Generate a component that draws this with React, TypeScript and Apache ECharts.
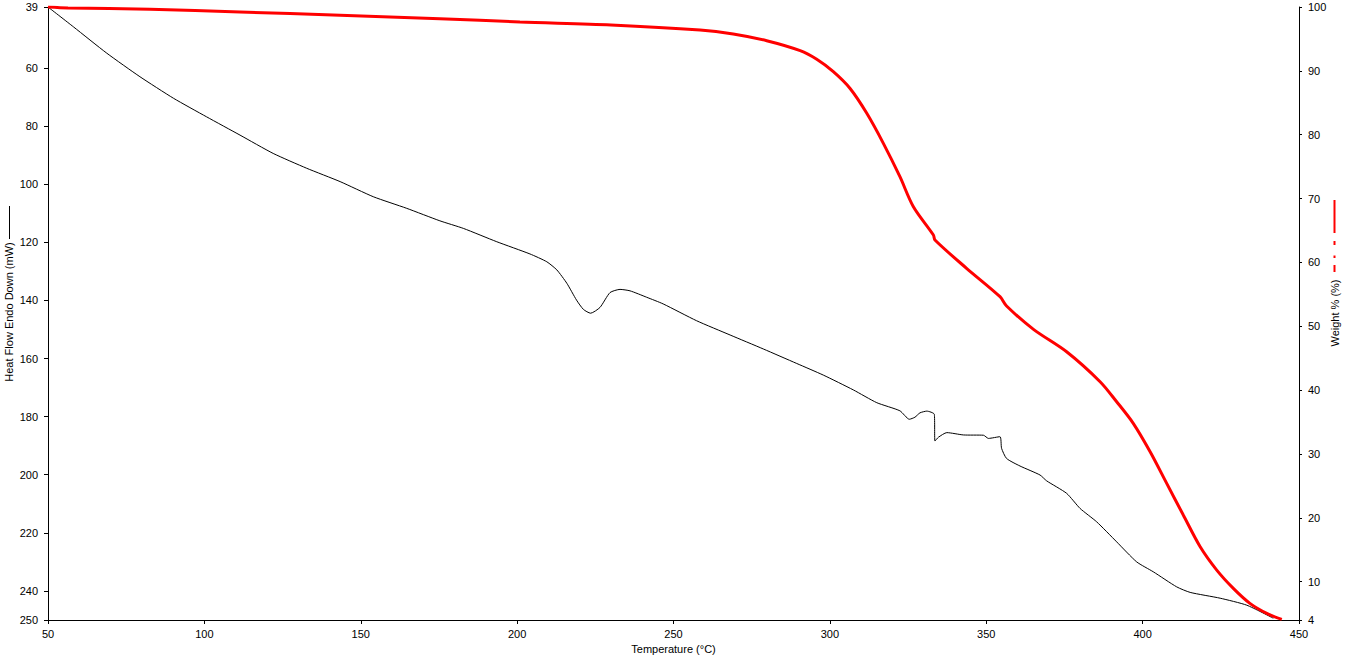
import React, { useEffect, useRef } from "react";
import * as echarts from "echarts";

// Heat flow (black) – temperature (°C) and heat flow (mW)
const hfTemp = [50, 58.1, 68.8, 79.4, 90.1, 100.7, 111.4, 122.0, 132.7, 143.4, 154.0, 164.7, 175.3, 182.8, 193.5, 204.1, 209.5, 212.7, 215.9, 219.0, 221.2, 223.5, 226.5, 229.7, 232.9, 236.1, 241.4, 246.7, 257.4, 268.1, 278.7, 289.4, 297.9, 307.5, 315.0, 322.4, 325.4, 327.2, 328.8, 331.0, 333.4, 333.6, 334.7, 337.4, 342.7, 349.1, 350.7, 354.4, 354.9, 356.5, 360.8, 367.2, 369.3, 375.7, 380.0, 385.3, 391.7, 398.1, 403.4, 410.9, 415.2, 424.8, 433.3, 441.8];
const heatFlow = [39, 45.8, 54.9, 63.0, 70.4, 76.8, 83.1, 89.4, 94.5, 99.1, 104.3, 108.3, 112.6, 115.2, 119.8, 124.0, 126.7, 129.5, 134.1, 139.9, 143.1, 144.4, 142.4, 137.3, 136.2, 136.7, 138.9, 141.2, 147.0, 151.9, 156.7, 161.7, 165.7, 170.8, 175.2, 178.0, 180.9, 180.2, 178.7, 178.1, 179.2, 188.4, 187.1, 185.5, 186.3, 186.4, 187.5, 186.9, 190.9, 194.4, 197.0, 200.1, 202.1, 206.4, 211.6, 216.2, 223.1, 230.0, 233.4, 238.6, 240.5, 242.5, 244.9, 249.4];

// Weight (red) – temperature (°C) and weight (%)
const wTemp = [50, 56.4, 82.6, 111.4, 143.4, 175.3, 200.9, 230.0, 258.5, 269.1, 279.8, 290.5, 295.8, 301.1, 306.4, 311.8, 317.1, 322.4, 326.7, 333.1, 333.6, 343.7, 354.4, 356.5, 365.1, 375.7, 386.4, 391.7, 397.0, 402.4, 407.7, 413.0, 418.4, 423.7, 429.0, 434.3, 439.7, 444.5];
const weight = [100, 99.85, 99.64, 99.22, 98.7, 98.17, 97.65, 97.2, 96.4, 95.77, 94.72, 93.16, 91.81, 89.87, 87.27, 83.35, 78.65, 73.42, 68.72, 64.29, 63.51, 59.08, 54.63, 53.17, 49.52, 46.01, 41.32, 38.18, 34.8, 30.35, 25.4, 20.44, 15.47, 11.82, 8.96, 6.61, 5.04, 4.1];

const leftTicks = [39, 60, 80, 100, 120, 140, 160, 180, 200, 220, 240, 250];
const rightTicks = [4, 10, 20, 30, 40, 50, 60, 70, 80, 90, 100];

const xTitle = "Temperature (°C)";
const leftTitle = "Heat Flow Endo Down (mW)";
const rightTitle = "Weight % (%)";

const FONT = "'Liberation Sans', Arial, sans-serif";

export default function App() {
  const ref = useRef<HTMLDivElement>(null);
  useEffect(() => {
    if (!ref.current) return;
    const chart = echarts.init(ref.current, undefined, { renderer: "svg" });
    const axisCommon = {
      axisLine: { show: true, lineStyle: { color: "#000", width: 1 } },
      axisLabel: { color: "#000", fontSize: 11, fontFamily: FONT },
      splitLine: { show: false },
      nameTextStyle: { color: "#000", fontSize: 11, fontFamily: FONT },
    };
    const titleStyle = { fill: "#000", fontSize: 11, fontFamily: FONT, align: "center", verticalAlign: "middle" };
    chart.setOption({
      animation: false,
      backgroundColor: "#fff",
      grid: { left: 48, right: 53, top: 7, bottom: 36, containLabel: false, outerBoundsMode: "none" },
      xAxis: {
        type: "value",
        min: 50,
        max: 450,
        interval: 50,
        name: xTitle,
        nameLocation: "middle",
        nameGap: 23,
        ...axisCommon,
        axisTick: { show: true, length: 4, lineStyle: { color: "#000" } },
        axisLabel: { ...axisCommon.axisLabel, margin: 8 },
      },
      yAxis: [
        {
          type: "value",
          position: "left",
          inverse: true,
          min: 39,
          max: 250,
          ...axisCommon,
          axisTick: { show: true, length: 4, customValues: leftTicks, lineStyle: { color: "#000" } },
          axisLabel: { ...axisCommon.axisLabel, margin: 10, customValues: leftTicks },
        },
        {
          type: "value",
          position: "right",
          min: 4,
          max: 100,
          ...axisCommon,
          axisTick: { show: true, length: 3, customValues: rightTicks, lineStyle: { color: "#000" } },
          axisLabel: { ...axisCommon.axisLabel, margin: 9, customValues: rightTicks },
        },
      ],
      series: [
        {
          type: "line",
          yAxisIndex: 0,
          data: hfTemp.map((t, i) => [t, heatFlow[i]]),
          showSymbol: false,
          smooth: 0.2,
          lineStyle: { color: "#000", width: 1 },
          z: 2,
        },
        {
          type: "line",
          yAxisIndex: 1,
          data: wTemp.map((t, i) => [t, weight[i]]),
          showSymbol: false,
          smooth: 0.3,
          lineStyle: { color: "#ff0000", width: 3 },
          z: 3,
        },
      ],
      graphic: [
        { type: "text", x: 9, y: 312, rotation: Math.PI / 2, style: { text: leftTitle, ...titleStyle } },
        { type: "text", x: 1335, y: 313, rotation: Math.PI / 2, style: { text: rightTitle, ...titleStyle } },
        { type: "line", shape: { x1: 9.5, y1: 206, x2: 9.5, y2: 239 }, style: { stroke: "#000", lineWidth: 1 } },
        { type: "line", shape: { x1: 1334.5, y1: 200, x2: 1334.5, y2: 233 }, style: { stroke: "#ff0000", lineWidth: 2 } },
        { type: "line", shape: { x1: 1334.5, y1: 241, x2: 1334.5, y2: 245 }, style: { stroke: "#ff0000", lineWidth: 2 } },
        { type: "line", shape: { x1: 1334.5, y1: 255.5, x2: 1334.5, y2: 258 }, style: { stroke: "#ff0000", lineWidth: 2 } },
        { type: "line", shape: { x1: 1334.5, y1: 265, x2: 1334.5, y2: 272 }, style: { stroke: "#ff0000", lineWidth: 2 } },
      ],
    });
    return () => chart.dispose();
  }, []);
  return <div ref={ref} style={{ width: 1352, height: 656, position: "absolute", left: 0, top: 0 }} />;
}
